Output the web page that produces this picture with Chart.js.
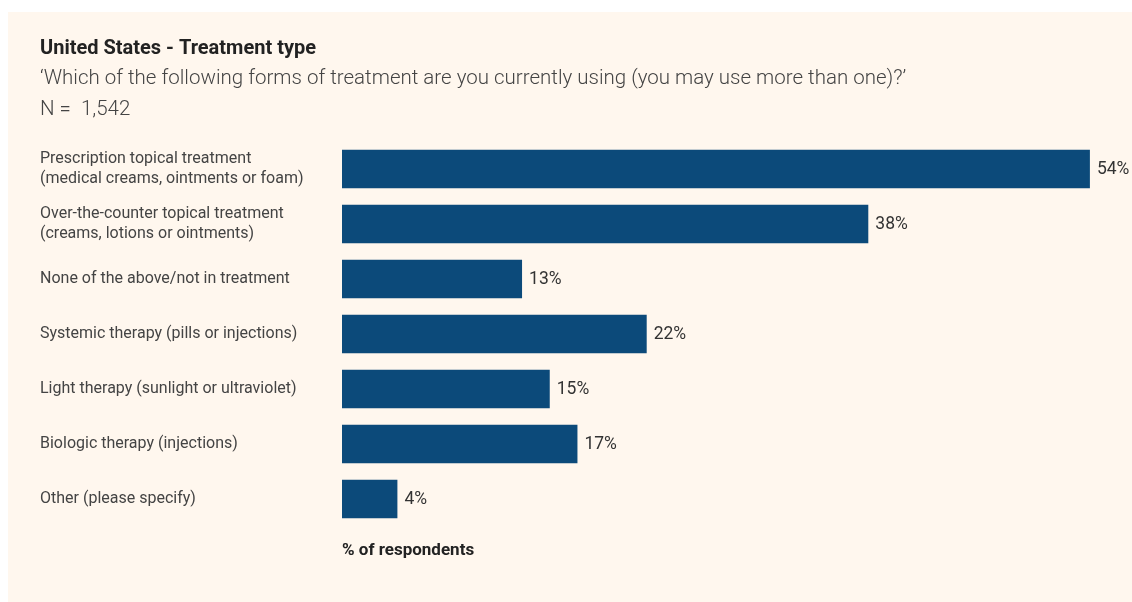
<!DOCTYPE html>
<html>
<head>
<meta charset="utf-8">
<script src="https://cdn.jsdelivr.net/npm/chart.js@4.4.1/dist/chart.umd.min.js"></script>
<style>
  html, body { margin: 0; padding: 0; background: #ffffff; }
  #wrap { position: absolute; left: 0; top: 0; width: 1132px; height: 602px; }
</style>
</head>
<body>
<div id="wrap"><canvas id="c" width="1132" height="602"></canvas></div>
<script>
// ---- Data ----
const chartTitle = 'United States - Treatment type';
const chartQuestion = '\u2018Which of the following forms of treatment are you currently using (you may use more than one)?\u2019';
const sampleSize = 'N =  1,542';
const categories = [
  ['Prescription topical treatment', '(medical creams, ointments or foam)'],
  ['Over-the-counter topical treatment', '(creams, lotions or ointments)'],
  'None of the above/not in treatment',
  'Systemic therapy (pills or injections)',
  'Light therapy (sunlight or ultraviolet)',
  'Biologic therapy (injections)',
  'Other (please specify)'
];
const percentValues = [54, 38, 13, 22, 15, 17, 4];
const axisTitle = '% of respondents';

const FONT = 'Roboto, "Noto Sans", "DejaVu Sans", sans-serif';

const panelPlugin = {
  id: 'panel',
  beforeDraw(chart) {
    const ctx = chart.ctx;
    ctx.save();
    ctx.fillStyle = '#FFF7EE';
    ctx.fillRect(8, 12, chart.width - 8, chart.height - 12);
    ctx.restore();
  }
};

const valueLabelPlugin = {
  id: 'valueLabels',
  afterDatasetsDraw(chart) {
    const ctx = chart.ctx;
    const meta = chart.getDatasetMeta(0);
    ctx.save();
    ctx.font = '17.5px ' + FONT;
    ctx.fillStyle = '#333333';
    ctx.textAlign = 'left';
    ctx.textBaseline = 'middle';
    meta.data.forEach((bar, i) => {
      ctx.fillText(percentValues[i] + '%', bar.x + 7, bar.y + 1);
    });
    ctx.restore();
  }
};

new Chart(document.getElementById('c'), {
  type: 'bar',
  data: {
    labels: categories,
    datasets: [{
      data: percentValues,
      backgroundColor: '#0C4A7A',
      borderWidth: 0,
      barPercentage: 0.7,
      categoryPercentage: 1.0
    }]
  },
  options: {
    indexAxis: 'y',
    responsive: false,
    animation: false,
    layout: { padding: { left: 40, right: 14.4, top: 0, bottom: 41 } },
    plugins: {
      legend: { display: false },
      tooltip: { enabled: false },
      title: {
        display: true,
        text: chartTitle,
        align: 'start',
        color: '#222222',
        font: { family: FONT, size: 20, weight: 'bold', lineHeight: 1.2 },
        padding: { top: 36.5, bottom: 0 }
      },
      subtitle: {
        display: true,
        text: [chartQuestion, sampleSize],
        align: 'start',
        color: '#444444',
        font: { family: FONT, size: 20.5, weight: '300', lineHeight: 31 / 20.5 },
        padding: { top: 3, bottom: 16 }
      }
    },
    scales: {
      x: {
        min: 0,
        max: 56,
        grid: { display: false },
        border: { display: false },
        ticks: { display: false },
        title: {
          display: true,
          text: axisTitle,
          align: 'start',
          color: '#222222',
          font: { family: FONT, size: 17, weight: 'bold', lineHeight: 1.2 },
          padding: { top: 6, bottom: 0 }
        }
      },
      y: {
        grid: { display: false },
        border: { display: false },
        afterFit(scale) { scale.width = 302; },
        ticks: {
          crossAlign: 'far',
          color: '#444444',
          font: { family: FONT, size: 16, lineHeight: 1.2 },
          padding: 0
        }
      }
    }
  },
  plugins: [panelPlugin, valueLabelPlugin]
});
</script>
</body>
</html>
